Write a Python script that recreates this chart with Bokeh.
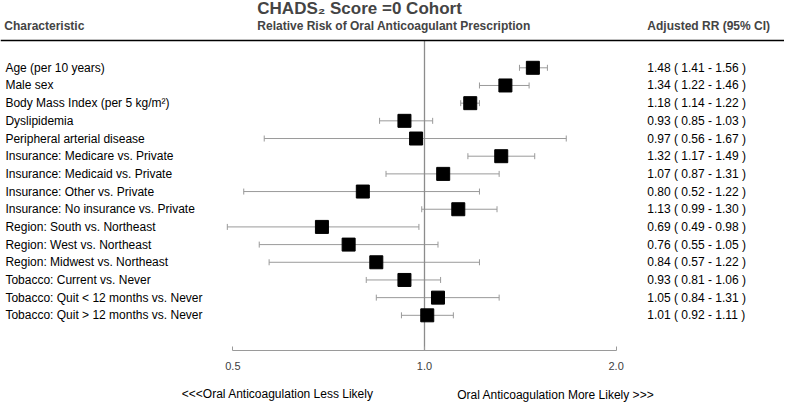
from bokeh.plotting import figure
from bokeh.models import (Range1d, Label, LabelSet, ColumnDataSource, Whisker,
                          TeeHead, FixedTicker, PrintfTickFormatter, Span)
from bokeh.core.properties import value
from bokeh.embed import file_html
from bokeh.resources import INLINE

# ---------------- data ----------------
labels = [
    "Age (per 10 years)",
    "Male sex",
    "Body Mass Index (per 5 kg/m\u00b2)",
    "Dyslipidemia",
    "Peripheral arterial disease",
    "Insurance: Medicare vs. Private",
    "Insurance: Medicaid vs. Private",
    "Insurance: Other vs. Private",
    "Insurance: No insurance vs. Private",
    "Region: South vs. Northeast",
    "Region: West vs. Northeast",
    "Region: Midwest vs. Northeast",
    "Tobacco: Current vs. Never",
    "Tobacco: Quit < 12 months vs. Never",
    "Tobacco: Quit > 12 months vs. Never",
]
rr = [1.48, 1.34, 1.18, 0.93, 0.97, 1.32, 1.07, 0.80, 1.13, 0.69, 0.76, 0.84, 0.93, 1.05, 1.01]
lo = [1.41, 1.22, 1.14, 0.85, 0.56, 1.17, 0.87, 0.52, 0.99, 0.49, 0.55, 0.57, 0.81, 0.84, 0.92]
hi = [1.56, 1.46, 1.22, 1.03, 1.67, 1.49, 1.31, 1.22, 1.30, 0.98, 1.05, 1.22, 1.06, 1.31, 1.11]
x_ticks = [0.5, 1.0, 2.0]
null_value = 1.0

title_text = "CHADS\u2082 Score =0 Cohort"
col1_header = "Characteristic"
col2_header = "Relative Risk of Oral Anticoagulant Prescription"
col3_header = "Adjusted RR (95% CI)"
left_note = "<<<Oral Anticoagulation Less Likely"
right_note = "Oral Anticoagulation More Likely >>>"

# ---------------- layout ----------------
W, H = 784, 402
PX_PER_DOUBLING = 191.6
NULL_PX = 424.0
ROW0_PX = 67.3
ROW_PITCH = 17.68
AXIS_PX = 350.4

x_start = 2 ** (-NULL_PX / PX_PER_DOUBLING)
x_end = 2 ** ((W - NULL_PX) / PX_PER_DOUBLING)
y_top = -ROW0_PX / ROW_PITCH
y_bot = (H - ROW0_PX) / ROW_PITCH


def ypx(px):
    return (px - ROW0_PX) / ROW_PITCH


FONT = "Liberation Sans"

rows = list(range(len(labels)))
ci_text = [f"{r:.2f} ( {l:.2f} - {h:.2f} )" for r, l, h in zip(rr, lo, hi)]
src = ColumnDataSource(dict(row=rows, rr=rr, lo=lo, hi=hi, label=labels, ci=ci_text))

p = figure(width=W, height=H, x_axis_type="log",
           x_range=Range1d(x_start, x_end), y_range=Range1d(y_bot, y_top),
           output_backend="svg", toolbar_location=None, y_axis_location=None,
           min_border_left=0, min_border_right=0, min_border_top=0,
           min_border_bottom=0)
p.grid.visible = False
p.outline_line_color = None
p.background_fill_color = "white"
p.border_fill_color = "white"

axis_y = ypx(AXIS_PX)
ax = p.xaxis[0]
ax.fixed_location = axis_y
ax.ticker = FixedTicker(ticks=x_ticks)
ax.formatter = PrintfTickFormatter(format="%.1f")
ax.bounds = (x_ticks[0], x_ticks[-1])
ax.minor_tick_line_color = None
ax.major_tick_in = 4
ax.major_tick_out = 0
ax.axis_line_color = "#9a9a9a"
ax.major_tick_line_color = "#9a9a9a"
ax.major_label_text_font = FONT
ax.major_label_text_font_size = "11px"
ax.major_label_text_color = "#404040"
ax.major_label_standoff = 11

rule_y = ypx(40.1)
p.add_layout(Span(location=rule_y, dimension="width", line_color="black", line_width=1.5))

# reference line at RR = 1
p.segment(x0=[null_value], x1=[null_value], y0=[rule_y], y1=[axis_y],
          line_color="#8c8c8c", line_width=1.3)

wh = Whisker(source=src, base="row", lower="lo", upper="hi", dimension="width",
             line_color="#9a9a9a", line_width=1,
             lower_head=TeeHead(size=6, line_color="#9a9a9a", line_width=1),
             upper_head=TeeHead(size=6, line_color="#9a9a9a", line_width=1))
wh.level = "underlay"
p.add_layout(wh)

p.scatter(x="rr", y="row", source=src, marker="square", size=13,
          fill_color="black", line_color="black")

p.add_layout(LabelSet(x=4.9, x_units="screen", y="row", text="label", source=src,
                      text_font=value(FONT), text_font_size=value("12px"),
                      text_color="black", text_baseline="middle"))
p.add_layout(LabelSet(x=646.8, x_units="screen", y="row", text="ci", source=src,
                      text_font=value(FONT), text_font_size=value("12px"),
                      text_color="black", text_baseline="middle"))

p.add_layout(Label(x=256.8, x_units="screen", y=ypx(8.4), text=title_text,
                   text_font=FONT, text_font_size="17px", text_font_style="bold",
                   text_baseline="middle"))
for xx, t in [(3.8, col1_header), (256.8, col2_header), (646.8, col3_header)]:
    p.add_layout(Label(x=xx, x_units="screen", y=ypx(25.7), text=t,
                       text_font=FONT, text_font_size="12px", text_font_style="bold",
                       text_baseline="middle"))

# bottom notes
p.add_layout(Label(x=181.3, x_units="screen", y=ypx(393.0), text=left_note,
                   text_font=FONT, text_font_size="12px",
                   text_color="black", text_baseline="middle"))
p.add_layout(Label(x=456.7, x_units="screen", y=ypx(394.5), text=right_note,
                   text_font=FONT, text_font_size="12px",
                   text_color="black", text_baseline="middle"))

open("out.html", "w").write(file_html(p, INLINE))
